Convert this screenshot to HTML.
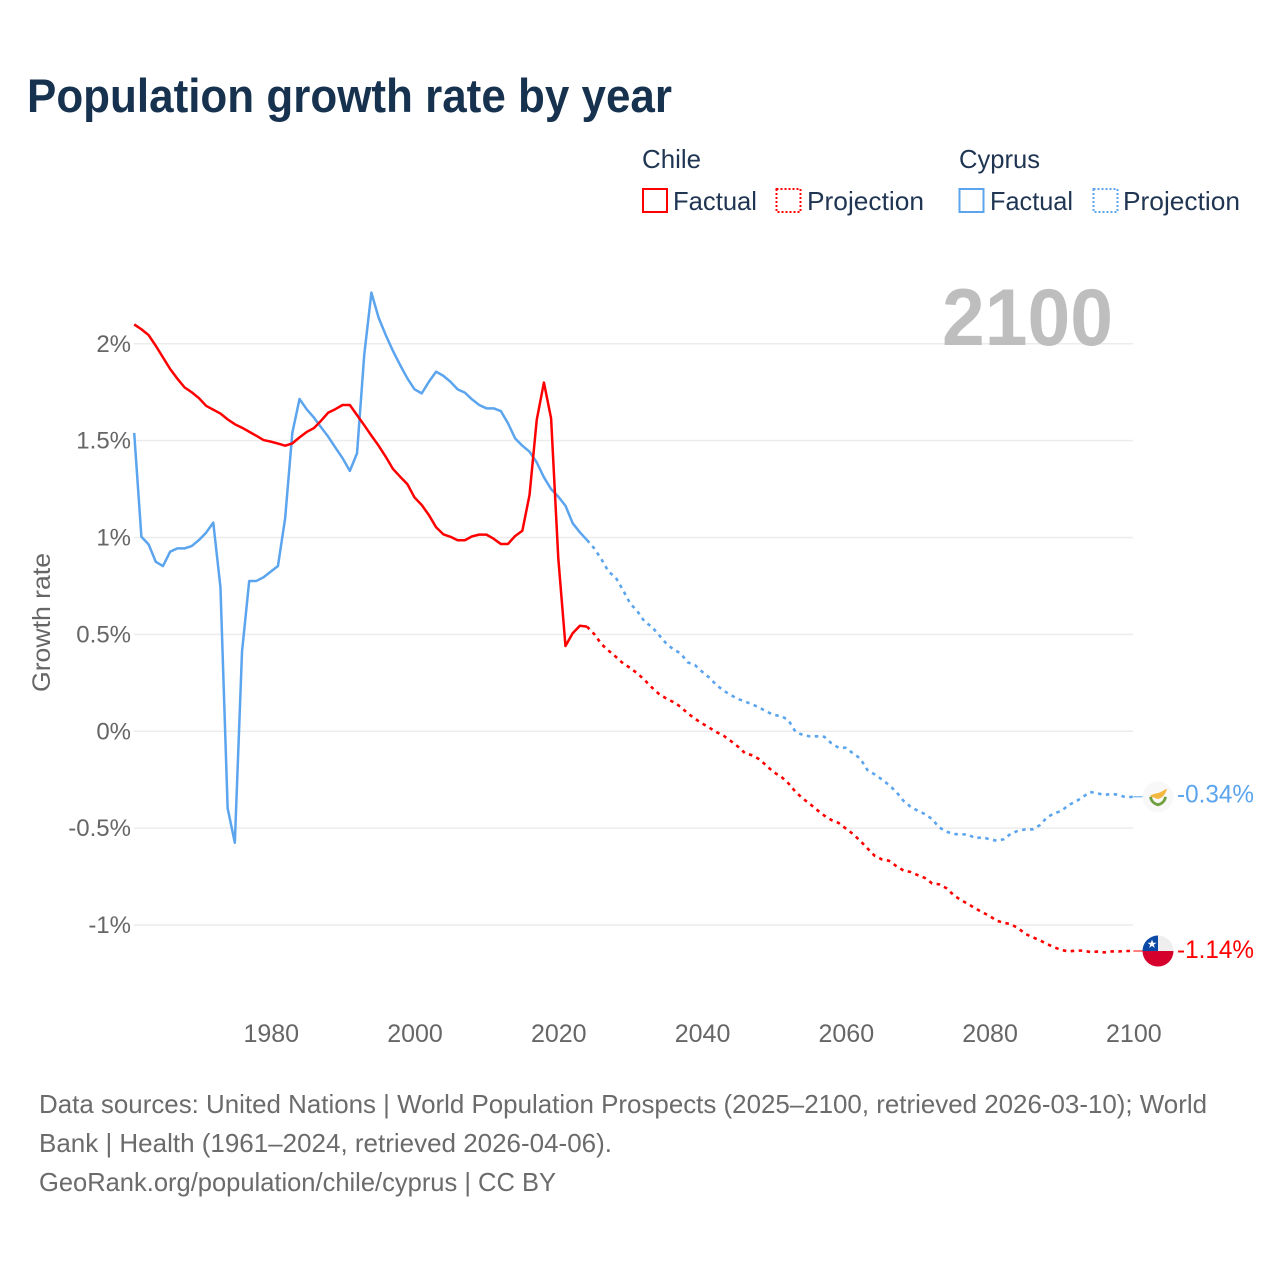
<!DOCTYPE html>
<html lang="en">
<head>
<meta charset="utf-8">
<title>Population growth rate by year</title>
<style>
html,body{margin:0;padding:0;background:#fff;width:1280px;height:1280px;overflow:hidden}
svg{display:block}
text{font-family:"Liberation Sans",sans-serif}
</style>
</head>
<body>
<svg id="chart" xmlns="http://www.w3.org/2000/svg" width="1280" height="1280" viewBox="0 0 1280 1280">
  <rect x="0" y="0" width="1280" height="1280" fill="#ffffff"/>
  <text x="27" y="112" font-size="47" font-weight="700" fill="#17324f" textLength="645" lengthAdjust="spacingAndGlyphs">Population growth rate by year</text>

  <g font-size="26" fill="#1f3552">
    <text x="642" y="168" textLength="59" lengthAdjust="spacingAndGlyphs">Chile</text>
    <rect x="643" y="189" width="24" height="23" fill="none" stroke="#ff0000" stroke-width="2"/>
    <text x="673" y="210" textLength="84" lengthAdjust="spacingAndGlyphs">Factual</text>
    <rect x="776.5" y="189" width="24" height="23" fill="none" stroke="#ff0000" stroke-width="2" stroke-dasharray="2 2"/>
    <text x="807" y="210" textLength="117" lengthAdjust="spacingAndGlyphs">Projection</text>
    <text x="959" y="168" textLength="81" lengthAdjust="spacingAndGlyphs">Cyprus</text>
    <rect x="959.5" y="189" width="24" height="23" fill="none" stroke="#5ba4ee" stroke-width="2"/>
    <text x="990" y="210" textLength="83" lengthAdjust="spacingAndGlyphs">Factual</text>
    <rect x="1093.5" y="189" width="24" height="23" fill="none" stroke="#5ba4ee" stroke-width="2" stroke-dasharray="2 2"/>
    <text x="1123" y="210" textLength="117" lengthAdjust="spacingAndGlyphs">Projection</text>
  </g>

  <g id="grid"></g>
  <text x="942" y="345" font-size="81" font-weight="700" fill="#bbbbbb" fill-opacity="0.95" textLength="171" lengthAdjust="spacingAndGlyphs">2100</text>
  <g id="yticks" font-size="24" fill="#666666" text-anchor="end"></g>
  <g id="xticks" font-size="25" fill="#666666" text-anchor="middle"></g>
  <text transform="translate(50 692) rotate(-90)" font-size="25" fill="#666666" textLength="139" lengthAdjust="spacingAndGlyphs">Growth rate</text>
  <g id="series"></g>

  <defs>
    <clipPath id="flag-clip-chile"><circle id="chile-clip-circle" cx="1158" cy="951" r="15.5"/></clipPath>
  </defs>
  <g id="flag-cyprus">
    <circle cx="0" cy="0" r="15.5" fill="#f8f8f8"/>
    <path d="M-8 -1 C-5 -3 -2 -3 1 -4 C4 -5 6 -7 9 -8 C8 -4 6 -1 3 1 C1 2 -1 3 -3 1 C-5 1 -7 0 -8 -1Z" fill="#f4b73f"/>
    <path d="M-7.5 0 C-7 4 -4 7 0 8 C4 7 7 4 7.5 0" fill="none" stroke="#6f9f3f" stroke-width="2.8"/>
  </g>
  <g id="flag-chile" clip-path="url(#flag-clip-chile)">
    <rect x="1142" y="935" width="32" height="16" fill="#eeeeee"/>
    <rect x="1142" y="951" width="32" height="16" fill="#d5002b"/>
    <rect x="1142" y="935" width="16" height="16" fill="#0a4aa6"/>
    <path d="M1152 939.5l1.2 3.2h3.3l-2.7 2 1 3.2-2.8-2-2.8 2 1-3.2-2.7-2h3.3z" fill="#ffffff"/>
  </g>
  <g id="end-labels" font-size="25"></g>

  <g font-size="26" fill="#6b6b6b">
    <text x="39" y="1113" textLength="1168" lengthAdjust="spacingAndGlyphs">Data sources: United Nations | World Population Prospects (2025–2100, retrieved 2026-03-10); World</text>
    <text x="39" y="1152" textLength="573" lengthAdjust="spacingAndGlyphs">Bank | Health (1961–2024, retrieved 2026-04-06).</text>
    <text x="39" y="1191" textLength="517" lengthAdjust="spacingAndGlyphs">GeoRank.org/population/chile/cyprus | CC BY</text>
  </g>
</svg>
<script>
const factualStartYear = 1961;
const projectionStartYear = 2024;
const yTickValues = [2, 1.5, 1, 0.5, 0, -0.5, -1];
const yTickLabels = ["2%", "1.5%", "1%", "0.5%", "0%", "-0.5%", "-1%"];
const xTickValues = [1980, 2000, 2020, 2040, 2060, 2080, 2100];
const xTickLabels = ["1980", "2000", "2020", "2040", "2060", "2080", "2100"];
const endLabelChile = "-1.14%";
const endLabelCyprus = "-0.34%";

// 1961–2024
const chileFactual = [2.10,2.075,2.045,1.99,1.93,1.87,1.82,1.775,1.75,1.72,1.68,1.66,1.64,1.61,1.585,1.567,1.546,1.525,1.503,1.495,1.485,1.474,1.486,1.517,1.545,1.565,1.603,1.645,1.663,1.684,1.684,1.632,1.58,1.526,1.474,1.417,1.354,1.314,1.276,1.207,1.168,1.116,1.053,1.017,1.004,0.986,0.986,1.006,1.015,1.015,0.994,0.967,0.967,1.008,1.035,1.22,1.607,1.80,1.615,0.893,0.44,0.506,0.545,0.54];
// 2024–2100
const chileProjection = [0.54,0.502,0.45,0.416,0.385,0.351,0.327,0.299,0.265,0.227,0.193,0.17,0.151,0.127,0.093,0.065,0.041,0.019,-0.004,-0.023,-0.05,-0.079,-0.114,-0.124,-0.145,-0.179,-0.212,-0.234,-0.268,-0.312,-0.346,-0.375,-0.406,-0.435,-0.458,-0.473,-0.502,-0.53,-0.565,-0.604,-0.642,-0.661,-0.668,-0.695,-0.718,-0.726,-0.742,-0.757,-0.785,-0.79,-0.81,-0.845,-0.871,-0.891,-0.914,-0.934,-0.953,-0.978,-0.988,-0.996,-1.017,-1.046,-1.063,-1.079,-1.098,-1.115,-1.129,-1.136,-1.132,-1.132,-1.139,-1.137,-1.141,-1.136,-1.136,-1.134,-1.134];
// 1961–2024
const cyprusFactual = [1.54,1.004,0.965,0.875,0.853,0.927,0.944,0.944,0.956,0.987,1.025,1.077,0.743,-0.397,-0.575,0.411,0.776,0.776,0.795,0.824,0.853,1.10,1.541,1.715,1.662,1.619,1.569,1.52,1.464,1.409,1.344,1.435,1.942,2.264,2.135,2.045,1.963,1.89,1.822,1.765,1.744,1.804,1.856,1.835,1.804,1.765,1.748,1.713,1.684,1.667,1.667,1.653,1.59,1.512,1.474,1.443,1.388,1.311,1.25,1.211,1.164,1.074,1.027,0.987];
// 2024–2100
const cyprusProjection = [0.987,0.944,0.888,0.824,0.793,0.729,0.66,0.62,0.566,0.54,0.497,0.454,0.423,0.403,0.356,0.342,0.308,0.277,0.239,0.21,0.187,0.167,0.153,0.139,0.122,0.101,0.084,0.079,0.058,-0.002,-0.019,-0.026,-0.026,-0.028,-0.062,-0.085,-0.085,-0.114,-0.14,-0.2,-0.222,-0.248,-0.277,-0.312,-0.358,-0.389,-0.41,-0.427,-0.453,-0.496,-0.518,-0.53,-0.532,-0.532,-0.552,-0.547,-0.557,-0.565,-0.557,-0.527,-0.513,-0.506,-0.506,-0.484,-0.444,-0.423,-0.411,-0.38,-0.363,-0.338,-0.313,-0.32,-0.329,-0.322,-0.329,-0.341,-0.338];

const SVG_NS = "http://www.w3.org/2000/svg";
const RED = "#ff0000";
const BLUE = "#5ba4ee";

function xScale(year) { return 134.2 + (year - 1961) * 7.188; }
function yScale(value) { return 731.3 - value * 193.75; }

function linePath(values, startYear) {
  return values.map(function (v, i) {
    return (i ? "L" : "M") + xScale(startYear + i).toFixed(2) + " " + yScale(v).toFixed(2);
  }).join(" ");
}

const gridGroup = document.getElementById("grid");
const yTickGroup = document.getElementById("yticks");
yTickValues.forEach(function (v, i) {
  const gridLine = document.createElementNS(SVG_NS, "line");
  
  
  gridLine.setAttribute("x1", 134);
  gridLine.setAttribute("x2", 1133);
  gridLine.setAttribute("y1", yScale(v));
  gridLine.setAttribute("y2", yScale(v));
  gridLine.setAttribute("stroke", "#ececec");
  gridLine.setAttribute("stroke-width", "1.5");
  gridGroup.appendChild(gridLine);

  const tick = document.createElementNS(SVG_NS, "text");
  
  
  tick.setAttribute("x", 131);
  tick.setAttribute("y", yScale(v) + 8);
  tick.textContent = yTickLabels[i];
  yTickGroup.appendChild(tick);
});

const xTickGroup = document.getElementById("xticks");
xTickValues.forEach(function (year, i) {
  const tick = document.createElementNS(SVG_NS, "text");
  
  
  tick.setAttribute("x", xScale(year) + 0.5);
  tick.setAttribute("y", 1042);
  tick.textContent = xTickLabels[i];
  xTickGroup.appendChild(tick);
});

const seriesGroup = document.getElementById("series");

const cyprusFactualLine = document.createElementNS(SVG_NS, "path");


cyprusFactualLine.setAttribute("d", linePath(cyprusFactual, factualStartYear));
cyprusFactualLine.setAttribute("fill", "none");
cyprusFactualLine.setAttribute("stroke", BLUE);
cyprusFactualLine.setAttribute("stroke-width", "2.5");
cyprusFactualLine.setAttribute("stroke-linejoin", "round");
seriesGroup.appendChild(cyprusFactualLine);

const chileFactualLine = document.createElementNS(SVG_NS, "path");


chileFactualLine.setAttribute("d", linePath(chileFactual, factualStartYear));
chileFactualLine.setAttribute("fill", "none");
chileFactualLine.setAttribute("stroke", RED);
chileFactualLine.setAttribute("stroke-width", "2.5");
chileFactualLine.setAttribute("stroke-linejoin", "round");
seriesGroup.appendChild(chileFactualLine);

const cyprusProjectionLine = document.createElementNS(SVG_NS, "path");


cyprusProjectionLine.setAttribute("d", linePath(cyprusProjection, projectionStartYear));
cyprusProjectionLine.setAttribute("fill", "none");
cyprusProjectionLine.setAttribute("stroke", BLUE);
cyprusProjectionLine.setAttribute("stroke-width", "2.6");
cyprusProjectionLine.setAttribute("stroke-dasharray", "3.5 4.5");
seriesGroup.appendChild(cyprusProjectionLine);

const chileProjectionLine = document.createElementNS(SVG_NS, "path");


chileProjectionLine.setAttribute("d", linePath(chileProjection, projectionStartYear));
chileProjectionLine.setAttribute("fill", "none");
chileProjectionLine.setAttribute("stroke", RED);
chileProjectionLine.setAttribute("stroke-width", "2.6");
chileProjectionLine.setAttribute("stroke-dasharray", "3.5 4.5");
seriesGroup.appendChild(chileProjectionLine);

const lastYear = projectionStartYear + chileProjection.length - 1;
const chileEndY = yScale(chileProjection[chileProjection.length - 1]);
const cyprusEndY = yScale(cyprusProjection[cyprusProjection.length - 1]);

const chileConnector = document.createElementNS(SVG_NS, "line");


chileConnector.setAttribute("x1", xScale(lastYear));
chileConnector.setAttribute("x2", 1143);
chileConnector.setAttribute("y1", chileEndY);
chileConnector.setAttribute("y2", chileEndY);
chileConnector.setAttribute("stroke", RED);
seriesGroup.appendChild(chileConnector);

const cyprusConnector = document.createElementNS(SVG_NS, "line");


cyprusConnector.setAttribute("x1", xScale(lastYear));
cyprusConnector.setAttribute("x2", 1143);
cyprusConnector.setAttribute("y1", cyprusEndY);
cyprusConnector.setAttribute("y2", cyprusEndY);
cyprusConnector.setAttribute("stroke", BLUE);
seriesGroup.appendChild(cyprusConnector);

document.getElementById("flag-cyprus").setAttribute("transform", "translate(1158 " + cyprusEndY + ")");
document.getElementById("chile-clip-circle").setAttribute("cy", chileEndY);
const chileFlagShift = chileEndY - 951;
document.getElementById("flag-chile").querySelectorAll("rect,path").forEach(function (el) {
  el.setAttribute("transform", "translate(0 " + chileFlagShift + ")");
});

const endGroup = document.getElementById("end-labels");

const chileEndText = document.createElementNS(SVG_NS, "text");


chileEndText.setAttribute("x", 1177);
chileEndText.setAttribute("y", chileEndY + 7);
chileEndText.setAttribute("fill", RED);
chileEndText.setAttribute("textLength", "77");
chileEndText.setAttribute("lengthAdjust", "spacingAndGlyphs");
chileEndText.textContent = endLabelChile;
endGroup.appendChild(chileEndText);

const cyprusEndText = document.createElementNS(SVG_NS, "text");


cyprusEndText.setAttribute("x", 1177);
cyprusEndText.setAttribute("y", cyprusEndY + 5.5);
cyprusEndText.setAttribute("fill", BLUE);
cyprusEndText.setAttribute("textLength", "77");
cyprusEndText.setAttribute("lengthAdjust", "spacingAndGlyphs");
cyprusEndText.textContent = endLabelCyprus;
endGroup.appendChild(cyprusEndText);
</script>
</body>
</html>
